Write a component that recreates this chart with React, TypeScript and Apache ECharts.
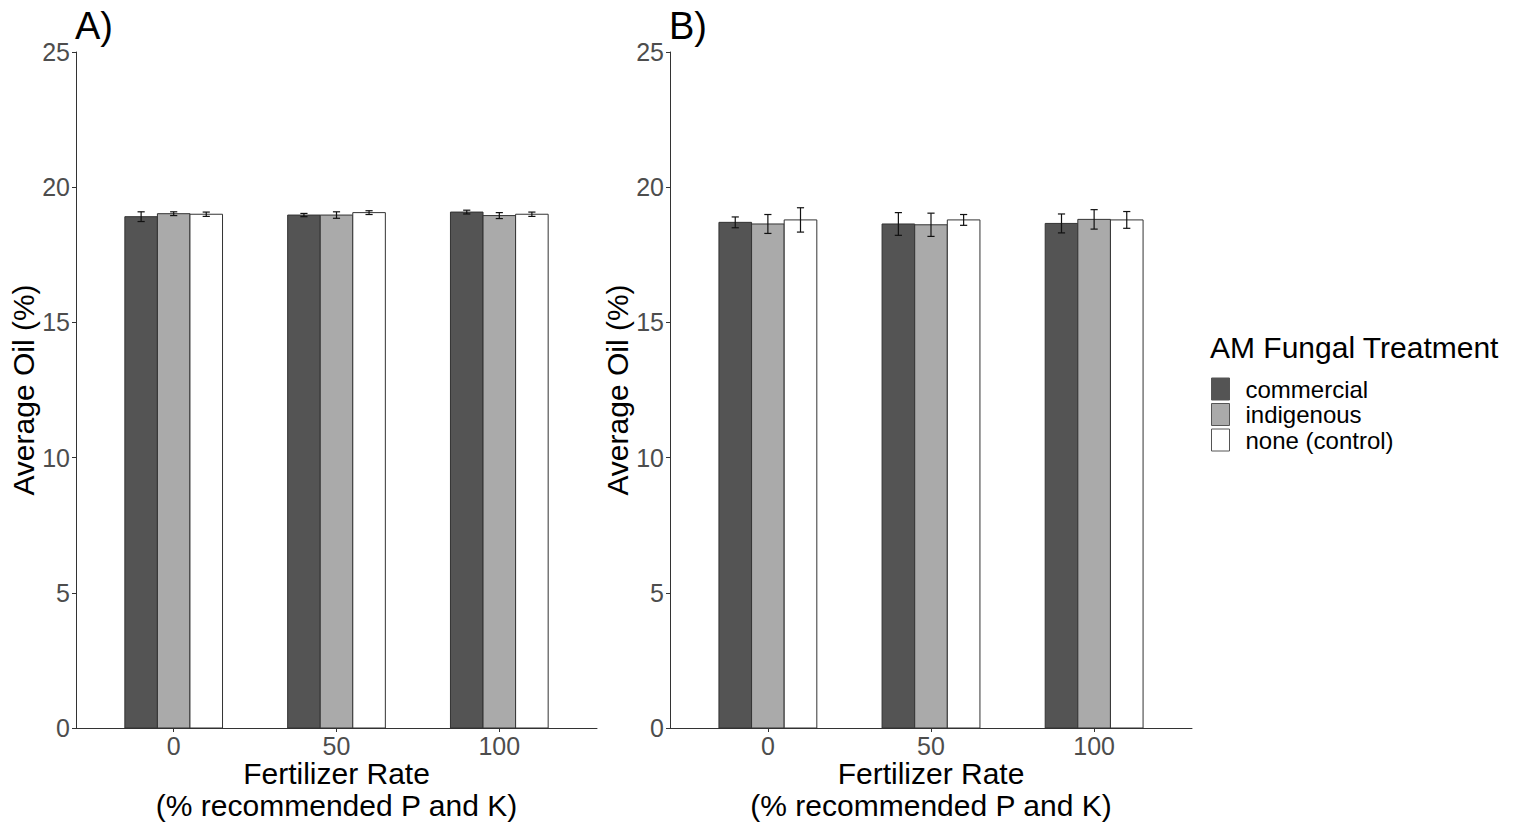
import React, { useEffect, useRef } from "react";
import * as echarts from "echarts";

const categories = ["0", "50", "100"];
const treatments = ["commercial", "indigenous", "none (control)"];
const fills = ["#545454", "#aaaaaa", "#ffffff"];
const yTicks = [0, 5, 10, 15, 20, 25];

// Panel A
const aCommercial = [18.91, 18.97, 19.08];
const aCommercialErr = [0.18, 0.06, 0.07];
const aIndigenous = [19.02, 18.97, 18.95];
const aIndigenousErr = [0.07, 0.12, 0.11];
const aNone = [19.0, 19.06, 19.0];
const aNoneErr = [0.08, 0.07, 0.08];

// Panel B
const bCommercial = [18.7, 18.64, 18.66];
const bCommercialErr = [0.2, 0.42, 0.35];
const bIndigenous = [18.64, 18.61, 18.81];
const bIndigenousErr = [0.35, 0.43, 0.36];
const bNone = [18.79, 18.79, 18.79];
const bNoneErr = [0.45, 0.2, 0.31];

const panels = [
  { label: "A)", vals: [aCommercial, aIndigenous, aNone], errs: [aCommercialErr, aIndigenousErr, aNoneErr] },
  { label: "B)", vals: [bCommercial, bIndigenous, bNone], errs: [bCommercialErr, bIndigenousErr, bNoneErr] },
];

const FONT = "Liberation Sans, Arial, sans-serif";

export default function App() {
  const ref = useRef<HTMLDivElement>(null);
  useEffect(() => {
    document.body.style.margin = "0";
    const chart = echarts.init(ref.current!, null, { renderer: "svg" });
    const grids = [
      { left: 76, top: 52, width: 521, height: 676, outerBoundsMode: "none", containLabel: false },
      { left: 670, top: 52, width: 522, height: 676, outerBoundsMode: "none", containLabel: false },
    ];
    const offsets = [-0.2, 0, 0.2];
    const series: any[] = [];
    panels.forEach((p, pi) => {
      treatments.forEach((t, ti) => {
        series.push({
          type: "custom",
          name: t,
          xAxisIndex: pi,
          yAxisIndex: pi,
          itemStyle: { color: fills[ti], borderColor: "#333", borderWidth: 1 },
          encode: { x: 0, y: 1 },
          data: categories.map((_, ci) => [ci + 1 + offsets[ti], p.vals[ti][ci], p.errs[ti][ci]]),
          renderItem: (params: any, api: any) => {
            const xc = api.value(0);
            const val = api.value(1);
            const err = api.value(2);
            const p0 = api.coord([xc - 0.1, val]);
            const p1 = api.coord([xc + 0.1, 0]);
            const top = api.coord([xc, val + err]);
            const bot = api.coord([xc, val - err]);
            const half = api.size([0.022, 0])[0];
            return {
              type: "group",
              children: [
                {
                  type: "rect",
                  shape: { x: p0[0], y: p0[1], width: p1[0] - p0[0], height: p1[1] - p0[1] },
                  style: { fill: fills[ti], stroke: "#333", lineWidth: 1 },
                },
                { type: "line", shape: { x1: top[0], y1: top[1], x2: bot[0], y2: bot[1] }, style: { stroke: "#111", lineWidth: 1.2 } },
                { type: "line", shape: { x1: top[0] - half, y1: top[1], x2: top[0] + half, y2: top[1] }, style: { stroke: "#111", lineWidth: 1.2 } },
                { type: "line", shape: { x1: bot[0] - half, y1: bot[1], x2: bot[0] + half, y2: bot[1] }, style: { stroke: "#111", lineWidth: 1.2 } },
              ],
            };
          },
        });
      });
    });

    const axisLine = { show: true, lineStyle: { color: "#333", width: 1 } };
    const axisTick = { show: true, length: 4, lineStyle: { color: "#333", width: 1 } };

    chart.setOption({
      animation: false,
      grid: grids,
      xAxis: grids.map((_, i) => ({
        type: "value",
        gridIndex: i,
        min: 0.4,
        max: 3.6,
        splitLine: { show: false },
        axisLine,
        axisTick: { ...axisTick, customValues: [1, 2, 3] },
        axisLabel: {
          customValues: [1, 2, 3],
          formatter: (v: number) => categories[Math.round(v) - 1],
          color: "#4d4d4d",
          fontSize: 25,
          fontFamily: FONT,
          margin: 5,
        },
        name: "Fertilizer Rate\n(% recommended P and K)",
        nameLocation: "middle",
        nameMoveOverlap: false,
        nameGap: 29,
        nameTextStyle: { fontSize: 30, color: "#000", fontFamily: FONT, lineHeight: 32, verticalAlign: "top" },
      })),
      yAxis: grids.map((_, i) => ({
        type: "value",
        gridIndex: i,
        min: 0,
        max: 25,
        interval: 5,
        splitLine: { show: false },
        axisLine,
        axisTick,
        axisLabel: { color: "#4d4d4d", fontSize: 25, fontFamily: FONT, margin: 6 },
        name: "Average Oil (%)",
        nameLocation: "middle",
        nameMoveOverlap: false,
        nameGap: 38,
        nameTextStyle: { fontSize: 30, color: "#000", fontFamily: FONT },
      })),
      legend: {
        orient: "vertical",
        left: 1211,
        top: 377,
        padding: 0,
        itemWidth: 18,
        itemHeight: 22,
        itemGap: 1.5,
        selectedMode: false,
        textStyle: { fontSize: 24, color: "#000", fontFamily: FONT, padding: [0, 0, 0, 11] },
        data: treatments.map((t, i) => ({
          name: t,
          icon: "rect",
          itemStyle: { color: fills[i], borderColor: "#555", borderWidth: 1 },
        })),
      },
      graphic: [
        { type: "text", left: 75, top: 7, style: { text: "A)", fontSize: 38, fill: "#000", fontFamily: FONT } },
        { type: "text", left: 669, top: 7, style: { text: "B)", fontSize: 38, fill: "#000", fontFamily: FONT } },
        { type: "text", left: 1210, top: 332, style: { text: "AM Fungal Treatment", fontSize: 30, fill: "#000", fontFamily: FONT } },
      ],
      series,
    });
    return () => chart.dispose();
  }, []);
  return <div ref={ref} style={{ width: 1517, height: 825 }} />;
}
